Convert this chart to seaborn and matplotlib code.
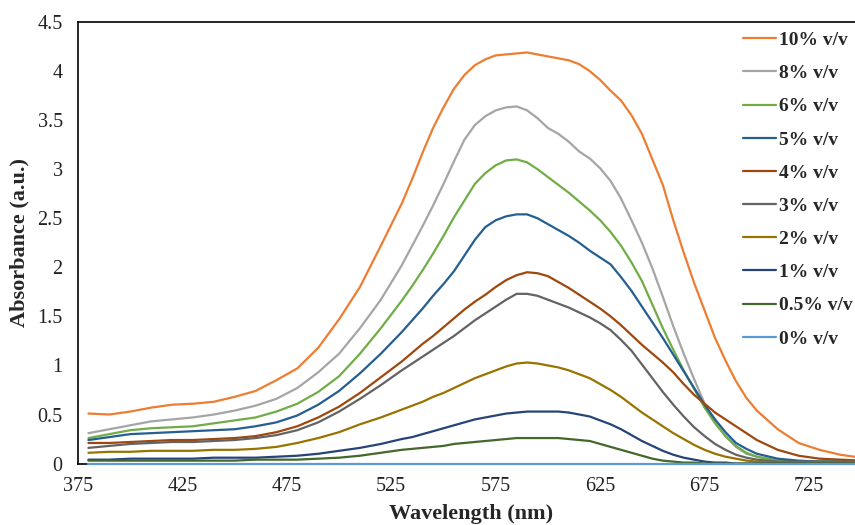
import numpy as np
import pandas as pd
import seaborn as sns
import matplotlib.pyplot as plt
from matplotlib.ticker import FuncFormatter

# comprimento de onda (nm): 10 nm nas pontas, 5 nm na região da banda
wavelength = (list(range(380, 531, 10)) + list(range(535, 701, 5))
              + list(range(710, 751, 10)))

labels = ["10% v/v", "8% v/v", "6% v/v", "5% v/v", "4% v/v",
          "3% v/v", "2% v/v", "1% v/v", "0.5% v/v", "0% v/v"]

colors = ["#ED7D31", "#A5A5A5", "#70AD47", "#255E91", "#9E480E",
          "#636363", "#997300", "#264478", "#43682B", "#5B9BD5"]

abs_10 = [0.51, 0.50, 0.53, 0.57, 0.60, 0.61, 0.63, 0.68, 0.74, 0.85,
          0.97, 1.18, 1.47, 1.80, 2.22, 2.65,
          2.90, 3.17, 3.42, 3.63, 3.82, 3.96, 4.06, 4.12, 4.16, 4.17,
          4.18, 4.19, 4.17, 4.15, 4.13, 4.11, 4.07, 4.00, 3.91, 3.80,
          3.70, 3.55, 3.36, 3.10, 2.84, 2.48, 2.15, 1.84, 1.56, 1.28,
          1.05, 0.84, 0.67, 0.54,
          0.35, 0.21, 0.14, 0.09, 0.06]
abs_8 = [0.31, 0.35, 0.39, 0.43, 0.45, 0.47, 0.50, 0.54, 0.59, 0.66,
         0.77, 0.93, 1.12, 1.38, 1.67, 2.02,
         2.22, 2.42, 2.63, 2.85, 3.08, 3.30, 3.45, 3.54, 3.60, 3.63,
         3.64, 3.60, 3.52, 3.42, 3.36, 3.28, 3.18, 3.11, 3.01, 2.88,
         2.70, 2.48, 2.25, 1.99, 1.70, 1.40, 1.12, 0.86, 0.61, 0.42,
         0.28, 0.17, 0.10, 0.07,
         0.03, 0.02, 0.02, 0.02, 0.02]
abs_6 = [0.26, 0.30, 0.34, 0.36, 0.37, 0.38, 0.41, 0.44, 0.47, 0.53,
         0.61, 0.73, 0.89, 1.12, 1.38, 1.66,
         1.81, 1.97, 2.14, 2.32, 2.51, 2.68, 2.85, 2.96, 3.04, 3.09,
         3.10, 3.07, 3.00, 2.92, 2.84, 2.76, 2.67, 2.58, 2.48, 2.36,
         2.22, 2.05, 1.86, 1.62, 1.38, 1.16, 0.95, 0.76, 0.57, 0.41,
         0.28, 0.18, 0.11, 0.07,
         0.03, 0.02, 0.02, 0.02, 0.02]
abs_5 = [0.24, 0.27, 0.30, 0.31, 0.32, 0.33, 0.34, 0.35, 0.38, 0.42,
         0.49, 0.60, 0.74, 0.92, 1.12, 1.34,
         1.46, 1.58, 1.71, 1.83, 1.96, 2.12, 2.28, 2.41, 2.48, 2.52,
         2.54, 2.54, 2.50, 2.44, 2.38, 2.32, 2.25, 2.17, 2.10, 2.03,
         1.90, 1.76, 1.60, 1.44, 1.28, 1.11, 0.94, 0.77, 0.60, 0.45,
         0.32, 0.21, 0.15, 0.10,
         0.05, 0.03, 0.02, 0.02, 0.02]
abs_4 = [0.21, 0.21, 0.22, 0.23, 0.24, 0.24, 0.25, 0.26, 0.28, 0.32,
         0.38, 0.47, 0.58, 0.72, 0.88, 1.04,
         1.13, 1.22, 1.30, 1.39, 1.48, 1.57, 1.65, 1.72, 1.80, 1.87,
         1.92, 1.95, 1.94, 1.91, 1.85, 1.79, 1.72, 1.65, 1.58, 1.50,
         1.41, 1.31, 1.21, 1.12, 1.03, 0.93, 0.81, 0.70, 0.61, 0.52,
         0.45, 0.38, 0.31, 0.24,
         0.14, 0.08, 0.05, 0.04, 0.03]
abs_3 = [0.16, 0.18, 0.20, 0.21, 0.22, 0.22, 0.23, 0.24, 0.26, 0.29,
         0.34, 0.42, 0.53, 0.66, 0.80, 0.95,
         1.02, 1.09, 1.16, 1.23, 1.30, 1.38, 1.46, 1.53, 1.60, 1.67,
         1.73, 1.73, 1.71, 1.67, 1.63, 1.59, 1.54, 1.49, 1.43, 1.36,
         1.26, 1.15, 1.01, 0.87, 0.73, 0.60, 0.48, 0.37, 0.28, 0.20,
         0.14, 0.09, 0.06, 0.04,
         0.02, 0.02, 0.02, 0.02, 0.02]
abs_2 = [0.11, 0.12, 0.12, 0.13, 0.13, 0.13, 0.14, 0.14, 0.15, 0.17,
         0.21, 0.26, 0.32, 0.40, 0.47, 0.55,
         0.59, 0.63, 0.68, 0.72, 0.77, 0.82, 0.87, 0.91, 0.95, 0.99,
         1.02, 1.03, 1.02, 1.00, 0.98, 0.95, 0.91, 0.87, 0.81, 0.75,
         0.68, 0.60, 0.52, 0.45, 0.38, 0.31, 0.25, 0.19, 0.14, 0.10,
         0.07, 0.05, 0.03, 0.02,
         0.01, 0.01, 0.01, 0.01, 0.01]
abs_1 = [0.04, 0.04, 0.05, 0.05, 0.05, 0.05, 0.06, 0.06, 0.06, 0.07,
         0.08, 0.10, 0.13, 0.16, 0.20, 0.25,
         0.27, 0.30, 0.33, 0.36, 0.39, 0.42, 0.45, 0.47, 0.49, 0.51,
         0.52, 0.53, 0.53, 0.53, 0.53, 0.52, 0.50, 0.48, 0.44, 0.40,
         0.35, 0.29, 0.23, 0.18, 0.13, 0.09, 0.06, 0.04, 0.02, 0.01,
         0.01, 0.00, 0.00, 0.00,
         0.00, 0.00, 0.00, 0.00, 0.00]
abs_05 = [0.03, 0.03, 0.03, 0.03, 0.03, 0.03, 0.03, 0.03, 0.04, 0.04,
          0.04, 0.05, 0.06, 0.08, 0.11, 0.14,
          0.15, 0.16, 0.17, 0.18, 0.20, 0.21, 0.22, 0.23, 0.24, 0.25,
          0.26, 0.26, 0.26, 0.26, 0.26, 0.25, 0.24, 0.23, 0.20, 0.17,
          0.14, 0.11, 0.08, 0.05, 0.03, 0.02, 0.01, 0.01, 0.00, 0.00,
          0.00, 0.00, 0.00, 0.00,
          0.00, 0.00, 0.00, 0.00, 0.00]
abs_0 = [0.0] * len(wavelength)

series = [abs_10, abs_8, abs_6, abs_5, abs_4, abs_3, abs_2, abs_1, abs_05, abs_0]

df = pd.concat(
    [pd.DataFrame({"Wavelength": wavelength, "Absorbance": s, "Conc": lab})
     for s, lab in zip(series, labels)],
    ignore_index=True,
)

sns.set_style("white")
plt.rcParams["font.family"] = ["Liberation Serif", "DejaVu Serif"]

fig = plt.figure(figsize=(8.55, 5.25), dpi=100)
ax = fig.add_axes([0.0912, 0.117, 0.9088, 0.841])

sns.lineplot(data=df, x="Wavelength", y="Absorbance", hue="Conc",
             hue_order=labels, palette=dict(zip(labels, colors)),
             linewidth=1.6, errorbar=None, ax=ax)

# linhas por cima dos eixos (a de 0% fica sobre o eixo x)
for ln in ax.lines:
    ln.set_zorder(3)
    ln.set_clip_on(False)

ax.set_xlim(375, 747)
ax.set_ylim(0, 4.5)
ax.set_xticks(range(375, 726, 50))
ax.set_yticks(np.arange(0, 4.51, 0.5))
ax.yaxis.set_major_formatter(FuncFormatter(lambda v, p: f"{v:g}"))
ax.tick_params(axis="both", length=0, labelsize=14.5, colors="#222222")
ax.tick_params(axis="y", pad=11)
ax.tick_params(axis="x", pad=10)

for side in ["left", "top", "bottom"]:
    ax.spines[side].set_color("black")
    ax.spines[side].set_linewidth(1.2)
ax.spines["right"].set_visible(False)

ax.set_xlabel("Wavelength (nm)", fontsize=16, fontweight="bold")
ax.set_ylabel("Absorbance (a.u.)", fontsize=16, fontweight="bold")
ax.xaxis.set_label_coords(0.506, -0.092)
ax.yaxis.set_label_coords(-0.062, 0.5)

ax.legend(loc="upper left", bbox_to_anchor=(0.86, 0.955),
          bbox_transform=fig.transFigure, frameon=False,
          prop={"weight": "bold", "size": 14}, handlelength=1.7,
          handletextpad=0.15, labelspacing=0.8, borderaxespad=0)

fig.savefig("out.png", dpi=100)
